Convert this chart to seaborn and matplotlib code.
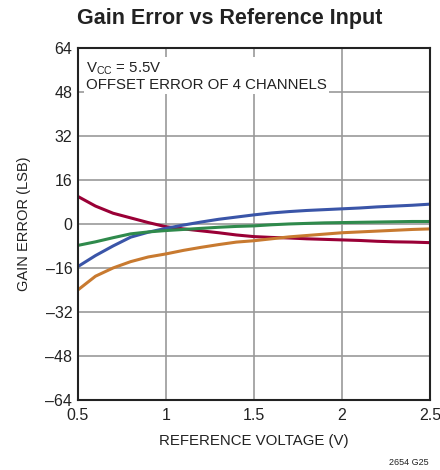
import numpy as np
import pandas as pd
import matplotlib.pyplot as plt
import seaborn as sns

# Reference voltage (V)
voltage = [0.5, 0.6, 0.7, 0.8, 0.9, 1.0, 1.1, 1.2, 1.3, 1.4, 1.5,
           1.6, 1.7, 1.8, 1.9, 2.0, 2.1, 2.2, 2.3, 2.4, 2.5]

# Gain error (LSB) for the 4 channels
ch_red = [10, 6.5, 3.9, 2.2, 0.5, -1.0, -1.8, -2.5, -3.2, -4.0, -4.6,
          -4.9, -5.1, -5.4, -5.6, -5.8, -6.0, -6.3, -6.5, -6.6, -6.8]
ch_blue = [-15.5, -11.5, -8.0, -4.8, -3.0, -1.6, -0.4, 0.7, 1.7, 2.5, 3.3,
           4.0, 4.5, 4.9, 5.2, 5.5, 5.8, 6.2, 6.5, 6.8, 7.2]
ch_green = [-7.8, -6.5, -5.0, -3.6, -2.9, -2.4, -2.0, -1.6, -1.2, -0.9, -0.7,
            -0.3, 0.0, 0.2, 0.4, 0.5, 0.6, 0.7, 0.8, 0.9, 0.9]
ch_orange = [-24, -19, -16, -13.7, -12, -10.9, -9.6, -8.5, -7.5, -6.6, -6.1,
             -5.4, -4.7, -4.2, -3.7, -3.2, -2.9, -2.6, -2.3, -2.0, -1.8]

channels = ['CH0', 'CH1', 'CH2', 'CH3']
series = [ch_red, ch_blue, ch_green, ch_orange]
colors = ['#9a0036', '#3a55a8', '#2f8a4c', '#c87a30']

df = pd.concat([pd.DataFrame({'V': voltage, 'Err': s, 'Ch': c})
                for s, c in zip(series, channels)], ignore_index=True)

sns.set_style('white')
plt.rcParams['font.family'] = ['Liberation Sans', 'DejaVu Sans']
plt.rcParams['mathtext.fontset'] = 'custom'
plt.rcParams['mathtext.rm'] = 'Liberation Sans'

fig = plt.figure(figsize=(4.4, 4.7), dpi=100)
ax = fig.add_axes([0.177, 0.149, 0.8, 0.749])

sns.lineplot(data=df, x='V', y='Err', hue='Ch', palette=colors, linewidth=2.2,
             legend=False, ax=ax, zorder=3)

ax.set_xlim(0.5, 2.5)
ax.set_ylim(-64, 64)
ax.set_xticks([0.5, 1, 1.5, 2, 2.5])
ax.set_xticklabels(['0.5', '1', '1.5', '2', '2.5'])
ax.set_yticks(np.arange(-64, 65, 16))
ax.set_yticklabels([f'{v}'.replace('-', '\u2013') for v in range(-64, 65, 16)])
ax.tick_params(length=0, labelsize=11.5, colors='#222222')
ax.tick_params(axis='x', pad=6)
ax.tick_params(axis='y', pad=4)
ax.grid(True, color='#999999', linewidth=1.2)
for sp in ax.spines.values():
    sp.set_color('#222222')
    sp.set_linewidth(1.5)
    sp.set_zorder(5)

ax.set_xlabel('REFERENCE VOLTAGE (V)', fontsize=10.8, color='#222222', labelpad=8)
ax.set_ylabel('GAIN ERROR (LSB)', fontsize=10.5, color='#222222', labelpad=10)

ax.text(0.545, 59.5, 'V$_{\\mathregular{CC}}$ = 5.5V\nOFFSET ERROR OF 4 CHANNELS',
        fontsize=10.8, color='#222222', va='top', ha='left', linespacing=1.1,
        bbox=dict(facecolor='white', edgecolor='none', pad=1.5), zorder=4)

fig.text(0.522, 0.96, 'Gain Error vs Reference Input', fontsize=15.5,
         fontweight='bold', ha='center', va='center', color='#222222')
fig.text(0.975, 0.017, '2654 G25', fontsize=6.5, ha='right', va='center',
         color='#222222')

fig.savefig('out.png', dpi=100)
